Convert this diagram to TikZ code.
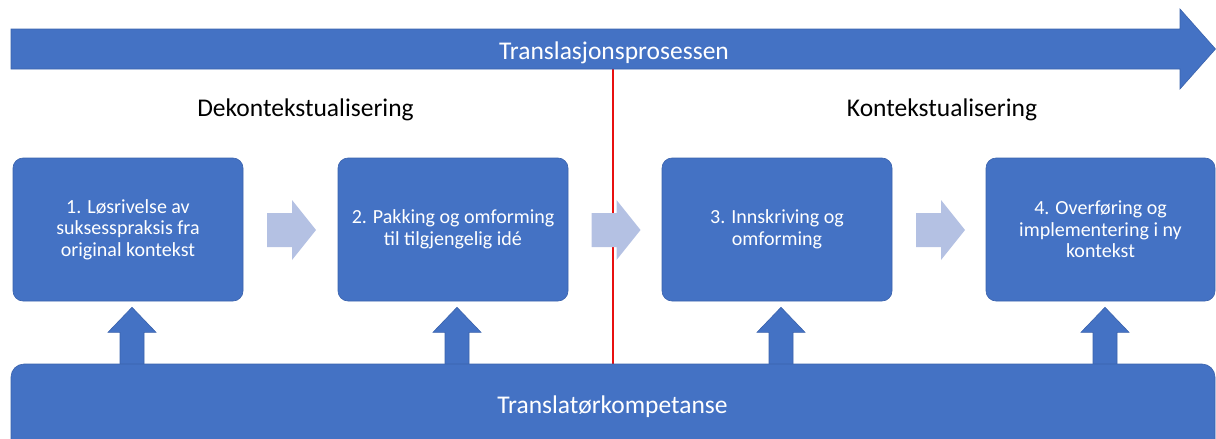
\documentclass[tikz,border=0pt]{standalone}
\usepackage{fontspec}
\setmainfont{Carlito}
\usetikzlibrary{calc}
\definecolor{blockblue}{RGB}{68,114,196}
\definecolor{blockedge}{RGB}{58,98,172}
\definecolor{paleblue}{RGB}{180,193,227}
\definecolor{splitred}{RGB}{232,16,16}
\begin{document}
\begin{tikzpicture}[x=1pt,y=-1pt,
  blockfill/.style={fill=blockblue, draw=blockedge, line width=0.6pt},
  stage/.style={blockfill, rounded corners=10pt, minimum width=230pt,
    minimum height=143pt, inner sep=0pt, text=white, align=center,
    font=\fontsize{20}{21.5}\selectfont,
    execute at begin node={\rule{0pt}{20pt}}},
  heading/.style={inner sep=0pt, text=black, font=\fontsize{25.5}{30}\selectfont},
  bandtext/.style={inner sep=0pt, text=white, font=\fontsize{25.5}{30}\selectfont},
  stepright/.pic={\fill[paleblue] (-24.5,-17) -- (0.5,-17) -- (0.5,-30) -- (24.5,0)
      -- (0.5,30) -- (0.5,17) -- (-24.5,17) -- cycle;},
  stepup/.pic={\path[blockfill] (0,0) -- (24,25) -- (12,25) -- (12,57)
      -- (-12,57) -- (-12,25) -- (-24,25) -- cycle;}]
\useasboundingbox (0,0) rectangle (1216,439);
\clip (0,0) rectangle (1216,439);

% dividing line between the two phases
\coordinate (splittop) at (613,69);
\coordinate (splitbot) at (613,364);
\draw[splitred, line width=1.4pt] (splittop) -- (splitbot);

% process band across the top
\path[blockfill] (11,29) -- (1180,29) -- (1180,9) -- (1215.5,49) -- (1180,89)
  -- (1180,69) -- (11,69) -- cycle;
\node[bandtext, anchor=base] (proc) at (614,59) {Translasjonsprosessen};

% phase headings
\node[heading, anchor=base] (dekon) at (305.5,116) {Dekontekstualisering};
\node[heading, anchor=base] (kon) at (942,116) {Kontekstualisering};

% the four stages
\node[stage] (b1) at (128,229.5) {1. Løsrivelse av\\suksesspraksis fra\\original kontekst};
\node[stage] (b2) at (453,229.5) {2. Pakking og omforming\\til tilgjengelig idé};
\node[stage] (b3) at (777,229.5) {3. Innskriving og\\omforming};
\node[stage, minimum width=229pt] (b4) at (1100.5,229.5) {4. Overføring og\\implementering i ny\\kontekst};

% pale arrows between consecutive stages
\pic at ($(b1.east)!0.5!(b2.west)+(1,0.5)$) {stepright};
\pic at ($(b2.east)!0.5!(b3.west)+(1,0.5)$) {stepright};
\pic at ($(b3.east)!0.5!(b4.west)+(1.5,0.5)$) {stepright};

% arrows from the competence base up to each stage
\pic at ($(b1.south)+(4,6)$) {stepup};
\pic at ($(b2.south)+(4,6)$) {stepup};
\pic at ($(b3.south)+(4,6)$) {stepup};
\pic at ($(b4.south)+(4.5,6)$) {stepup};

% competence base
\node[blockfill, rounded corners=13pt, minimum width=1204pt, minimum height=96pt,
  inner sep=0pt] (comp) at (613,412) {};
\node[bandtext, anchor=base] (comptext) at (612.5,413) {Translatørkompetanse};
\end{tikzpicture}
\end{document}
